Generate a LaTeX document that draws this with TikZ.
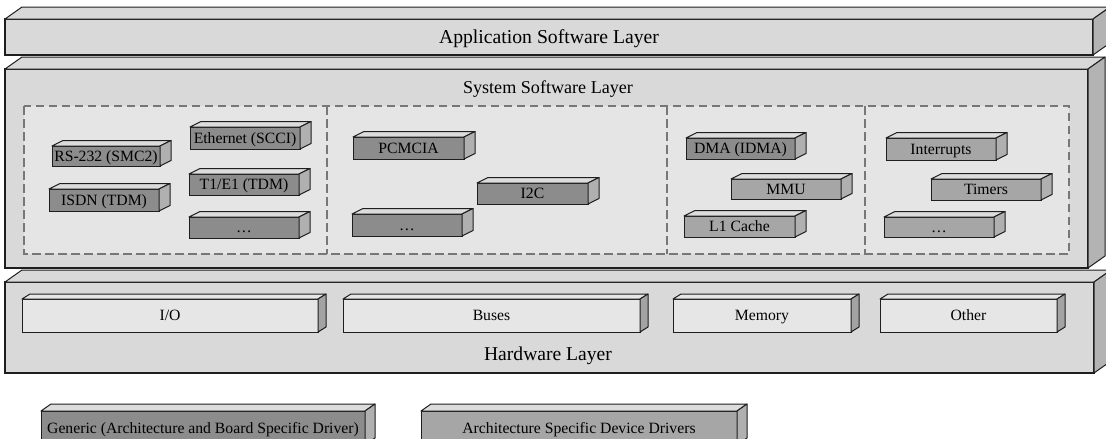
\documentclass[tikz,border=0pt]{standalone}
\usepackage{fontspec}
\setmainfont{Liberation Serif}

% depth offset and face colours of the next cuboids
\def\setcube#1#2#3#4{\def\cubdx{#1}\def\cubdy{#2}\def\cubtop{#3}\def\cubside{#4}}

% front face as a named node, then its top and right faces
\newcommand\cuboid[4]{%
  \node[#1] (#2) at #3 {#4};
  \path[faceline, fill=\cubtop] (#2.north west) -- ++(\cubdx,\cubdy)
    -- ([shift={(\cubdx,\cubdy)}]#2.north east) -- (#2.north east) -- cycle;
  \path[faceline, fill=\cubside] (#2.north east) -- ++(\cubdx,\cubdy)
    -- ([shift={(\cubdx,\cubdy)}]#2.south east) -- (#2.south east) -- cycle;
}

\definecolor{edge}{HTML}{1E1E1E}
\definecolor{layerfront}{HTML}{D9D9D9}
\definecolor{layerside}{HTML}{B3B3B3}
\definecolor{groupfill}{HTML}{E5E5E5}
\definecolor{dashgray}{HTML}{777777}
\definecolor{generic}{HTML}{8C8C8C}
\definecolor{archspec}{HTML}{A6A6A6}
\definecolor{boxtop}{HTML}{DCDCDC}
\definecolor{boxside}{HTML}{B0B0B0}
\definecolor{hwfront}{HTML}{E6E6E6}
\definecolor{hwside}{HTML}{A3A3A3}

\begin{document}
\begin{tikzpicture}[x=1pt,y=-1pt,
  faceline/.style={draw=edge, line width=1pt, line join=round},
  front/.style={draw=edge, line width=1pt, anchor=north west, inner sep=0pt,
    outer sep=0pt, text depth=0pt},
  layer/.style={front, fill=layerfront, line width=1.2pt},
  lbl/.style={font=\fontsize{15.7}{16}\selectfont, text height=10.4pt},
  drv/.style={front, fill=generic, lbl},
  arch/.style={front, fill=archspec, lbl},
  hwbox/.style={front, fill=hwfront, lbl},
  group/.style={draw=dashgray, line width=2pt, dash pattern=on 8.5pt off 4.5pt},
  title/.style={inner sep=0pt, text depth=0pt}
]
\useasboundingbox (0,0) rectangle (1106,439);

% ---- software and hardware layers ----
\setcube{17}{-12}{layerfront}{layerside}
\cuboid{layer, minimum width=1083pt, minimum height=199pt}{sys}{(5,69)}{}
\cuboid{layer, minimum width=1088pt, minimum height=36pt,
  font=\fontsize{19.7}{20}\selectfont, text height=13pt}{app}{(5,19)}{Application Software Layer}
\node[title, font=\fontsize{18.1}{19}\selectfont, text height=12pt] (systitle) at (548,87.5) {System Software Layer};

% ---- driver groups ----
\path[fill=groupfill] (24,106) rectangle (1069,254);
\draw[group] (24,106) rectangle (1069,254);
\coordinate (d1t) at (327,106); \coordinate (d1b) at (327,254);
\coordinate (d2t) at (667,106); \coordinate (d2b) at (667,254);
\coordinate (d3t) at (865,106); \coordinate (d3b) at (865,254);
\draw[group] (d1t) -- (d1b) (d2t) -- (d2b) (d3t) -- (d3b);

\setcube{11}{-5.5}{boxtop}{boxside}
\cuboid{drv, minimum width=108pt, minimum height=20pt}{rs}{(52,146)}{RS-232 (SMC2)}
\cuboid{drv, minimum width=110pt, minimum height=22pt}{isdn}{(49,189)}{ISDN (TDM)}
\cuboid{drv, minimum width=110pt, minimum height=22pt}{eth}{(190,127)}{Ethernet (SCCI)}
\cuboid{drv, minimum width=110pt, minimum height=21pt}{tone}{(189,174)}{T1/E1 (TDM)}
\cuboid{drv, minimum width=110pt, minimum height=21pt}{dotsa}{(189,217)}{\ldots}
\cuboid{drv, minimum width=111pt, minimum height=22pt}{pcmcia}{(353,137)}{PCMCIA}
\cuboid{drv, minimum width=111pt, minimum height=21pt}{itc}{(477,183)}{I2C}
\cuboid{drv, minimum width=110pt, minimum height=22pt}{dotsb}{(352,214)}{\ldots}
\cuboid{drv, minimum width=109pt, minimum height=21pt}{dma}{(686,138)}{DMA (IDMA)}
\cuboid{arch, minimum width=110pt, minimum height=20pt}{mmu}{(731,179)}{MMU}
\cuboid{arch, minimum width=111pt, minimum height=21pt}{lone}{(684,216)}{L1 Cache}
\cuboid{arch, minimum width=110pt, minimum height=22pt}{irq}{(886,138)}{Interrupts}
\cuboid{arch, minimum width=110pt, minimum height=21pt}{timers}{(931,179)}{Timers}
\cuboid{arch, minimum width=110pt, minimum height=20pt}{dotsc}{(884,217)}{\ldots}

% ---- hardware layer ----
\setcube{17}{-12}{layerfront}{layerside}
\cuboid{layer, minimum width=1089pt, minimum height=91pt}{hw}{(5,282)}{}
\node[title, font=\fontsize{19.6}{20}\selectfont, text height=13pt] (hwtitle) at (548,354) {Hardware Layer};

\setcube{8}{-5}{hwfront}{hwside}
\cuboid{hwbox, minimum width=296pt, minimum height=33pt}{io}{(22,299)}{I/O}
\cuboid{hwbox, minimum width=297pt, minimum height=33pt}{buses}{(343,299)}{Buses}
\cuboid{hwbox, minimum width=178pt, minimum height=33pt}{mem}{(673,299)}{Memory}
\cuboid{hwbox, minimum width=177pt, minimum height=33pt}{other}{(880,299)}{Other}

% ---- legend ----
\setcube{10}{-7}{boxtop}{boxside}
\cuboid{drv, minimum width=324pt, minimum height=34pt}{lgen}{(41,411)}{Generic (Architecture and Board Specific Driver)}
\cuboid{arch, minimum width=316pt, minimum height=34pt}{larch}{(421,411)}{Architecture Specific Device Drivers}
\end{tikzpicture}
\end{document}
